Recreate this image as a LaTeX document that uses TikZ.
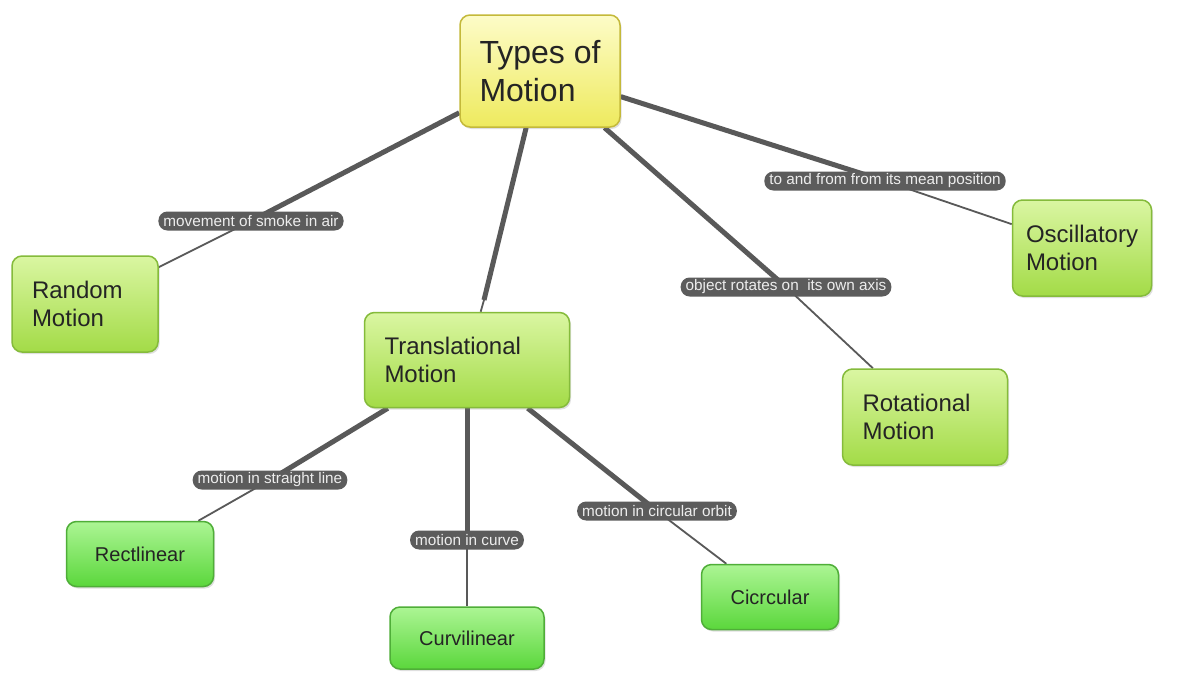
\documentclass[tikz,border=0pt]{standalone}
\usepackage{fontspec}
\setmainfont{Liberation Sans}
\usetikzlibrary{positioning,shadows,backgrounds}
\definecolor{edgegray}{HTML}{595959}
\definecolor{pillgray}{HTML}{5C5C5C}
\definecolor{yelline}{HTML}{C4B93A}
\definecolor{yeltop}{HTML}{FDFCC8}
\definecolor{yelbot}{HTML}{EEEA5E}
\definecolor{limeline}{HTML}{85BB3B}
\definecolor{limetop}{HTML}{DAF6A2}
\definecolor{limebot}{HTML}{A3DB47}
\definecolor{grnline}{HTML}{4FAE38}
\definecolor{grntop}{HTML}{ACF594}
\definecolor{grnbot}{HTML}{5BD73C}
\definecolor{boxtext}{HTML}{242424}

\begin{document}
\begin{tikzpicture}[x=1pt, y=1pt,
  tbox/.style={rectangle, rounded corners=10pt, draw=yelline, line width=1.5pt,
               top color=yeltop, bottom color=yelbot, text=boxtext,
               font=\fontsize{32}{38}\selectfont, align=left, inner xsep=18pt,
               drop shadow={opacity=0.25, shadow xshift=1.5pt, shadow yshift=-2pt}},
  mbox/.style={rectangle, rounded corners=10pt, draw=limeline, line width=1.5pt,
               top color=limetop, bottom color=limebot, text=boxtext,
               font=\fontsize{24}{28}\selectfont, align=left, inner xsep=20pt,
               drop shadow={opacity=0.25, shadow xshift=1.5pt, shadow yshift=-2pt}},
  sbox/.style={rectangle, rounded corners=10pt, draw=grnline, line width=1.5pt,
               top color=grntop, bottom color=grnbot, text=boxtext,
               font=\fontsize{20}{24}\selectfont, align=left,
               drop shadow={opacity=0.25, shadow xshift=1.5pt, shadow yshift=-2pt}},
  pill/.style={rectangle, rounded corners=9pt, fill=pillgray, text=white!93!black,
               font=\fontsize{15.3}{17}\selectfont, inner xsep=5pt, inner ysep=1pt,
               minimum height=19pt},
  bedge/.style={draw=edgegray, line width=5pt},
  nedge/.style={draw=edgegray, line width=1.8pt}
]
\useasboundingbox (0,0) rectangle (1182,-672);

% Central node
\node[tbox, minimum width=160pt, minimum height=112pt] (types) at (540,-71) {Types of\\Motion};

% Motion nodes
\node[mbox, text width=106pt, minimum height=96pt] (random) at (85,-304)  {Random\\Motion};
\node[mbox, text width=165pt, minimum height=95pt] (trans)  at (467,-360) {Translational\\Motion};
\node[mbox, inner xsep=13pt, minimum width=139pt, minimum height=96pt] (osc) at (1082,-248) {Oscillatory\\Motion};
\node[mbox, text width=125pt, minimum height=96pt] (rot)    at (925,-417) {Rotational\\Motion};

% Kinds of translation
\node[sbox, minimum width=147pt, minimum height=65pt] (rect)  at (140,-554) {Rectlinear};
\node[sbox, minimum width=154pt, minimum height=62pt] (curv)  at (467,-638) {Curvilinear};
\node[sbox, minimum width=137pt, minimum height=65pt] (circ)  at (770,-597) {Cicrcular};

% Link labels
\node[pill] (lrandom) at (251,-221) {movement of smoke in air};
\node[pill] (losc)    at (885,-181) {to and from from its mean position};
\node[pill] (lrot)    at (786,-287) {object rotates on\ \ its own axis};
\node[pill] (lrect)   at (270,-480) {motion in straight line};
\node[pill] (lcurv)   at (467,-540) {motion in curve};
\node[pill] (lcirc)   at (657,-511) {motion in circular orbit};
\coordinate (ltrans) at (484,-300);

% Links
\begin{pgfonlayer}{background}
\fill[white] (0,0) rectangle (1182,-672);
\draw[bedge] (types) -- (lrandom.center);
\draw[nedge] (lrandom.center) -- (random);
\draw[bedge] (types) -- (ltrans);
\draw[nedge] (ltrans) -- (trans);
\draw[bedge] (types) -- (lrot.center);
\draw[nedge] (lrot.center) -- (rot);
\draw[bedge] (types) -- (losc.center);
\draw[nedge] (losc.center) -- (osc);
\draw[bedge] (trans) -- (lrect.center);
\draw[nedge] (lrect.center) -- (rect);
\draw[bedge] (trans) -- (lcurv.center);
\draw[nedge] (lcurv.center) -- (curv);
\draw[bedge] (trans) -- (lcirc.center);
\draw[nedge] (lcirc.center) -- (circ);
\end{pgfonlayer}
\end{tikzpicture}
\end{document}
